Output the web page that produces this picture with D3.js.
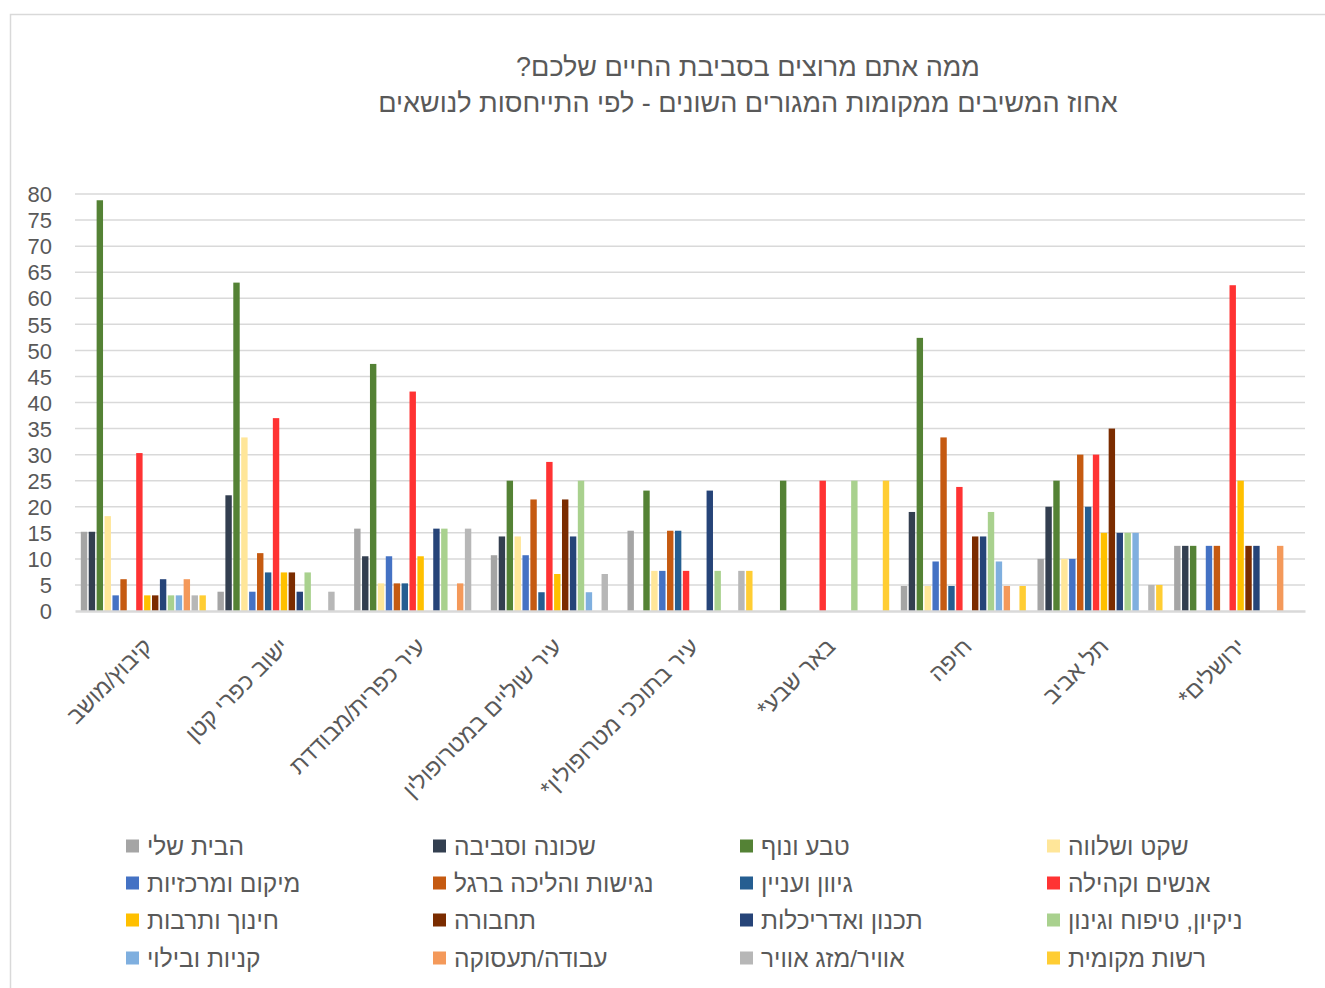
<!DOCTYPE html>
<html><head><meta charset="utf-8">
<script src="https://cdn.jsdelivr.net/npm/d3@7"></script>
<style>
html,body{margin:0;padding:0;background:#fff;}
svg text{font-family:"Liberation Sans",Arial,"DejaVu Sans",sans-serif;fill:#595959;}
</style></head>
<body>
<svg id="chart" width="1325" height="988"></svg>
<script>
const titleLines = ["ממה אתם מרוצים בסביבת החיים שלכם?", "אחוז המשיבים ממקומות המגורים השונים - לפי התייחסות לנושאים"];
const categories = ["קיבוץ/מושב","ישוב כפרי קטן","עיר כפרית/מבודדת","עיר שוליים במטרופולין","עיר בתוככי מטרופולין*","באר שבע*","חיפה","תל אביב","ירושלים*"];
const seriesNames = ["הבית שלי","שכונה וסביבה","טבע ונוף","שקט ושלווה","מיקום ומרכזיות","נגישות והליכה ברגל","גיוון ועניין","אנשים וקהילה","חינוך ותרבות","תחבורה","תכנון ואדריכלות","ניקיון, טיפוח וגינון","קניות ובילוי","עבודה/תעסוקה","אוויר/מזג אוויר","רשות מקומית"];
const seriesColors = ["#A5A5A5","#333F50","#548235","#FFE699","#4472C4","#C55A11","#255E91","#FF3333","#FFC000","#7B2C00","#264478","#A9D18E","#7FAFDF","#F4995A","#B7B7B7","#FFCD33"];
// values per category, in series order
const kibbutz       = [15.2,15.2,78.8,18.2,3.0,6.1,0,30.3,3.0,3.0,6.1,3.0,3.0,6.1,3.0,3.0];
const smallVillage  = [3.7,22.2,63.0,33.3,3.7,11.1,7.4,37.0,7.4,7.4,3.7,7.4,0,0,3.7,0];
const ruralTown     = [15.8,10.5,47.4,5.3,10.5,5.3,5.3,42.1,10.5,0,15.8,15.8,0,5.3,15.8,0];
const peripheryCity = [10.7,14.3,25.0,14.3,10.7,21.4,3.6,28.6,7.1,21.4,14.3,25.0,3.6,0,7.1,0];
const innerCity     = [15.4,0,23.1,7.7,7.7,15.4,15.4,7.7,0,0,23.1,7.7,0,0,7.7,7.7];
const beerSheva     = [0,0,25,0,0,0,0,25,0,0,0,25,0,0,0,25];
const haifa         = [4.8,19.0,52.4,4.8,9.5,33.3,4.8,23.8,0,14.3,14.3,19.0,9.5,4.8,0,4.8];
const telAviv       = [10,20,25,10,10,30,20,30,15,35,15,15,15,0,5,5];
const jerusalem     = [12.5,12.5,12.5,0,12.5,12.5,0,62.5,25,12.5,12.5,0,0,12.5,0,0];
const categoryValues = [kibbutz,smallVillage,ruralTown,peripheryCity,innerCity,beerSheva,haifa,telAviv,jerusalem];
const yTicks = d3.range(0,81,5);

const svg = d3.select("#chart");
svg.append("rect").attr("x",10.5).attr("y",14.5).attr("width",1330).attr("height",990)
  .attr("fill","#fff").attr("stroke","#D9D9D9").attr("stroke-width",1.5);

const plotLeft=75, plotRight=1305, plotTop=194, plotBottom=611;
const x0 = d3.scaleBand().domain(categories).range([plotLeft,plotRight]).paddingInner(0.085).paddingOuter(0.0425);
const x1 = d3.scaleBand().domain(d3.range(seriesNames.length)).range([0,x0.bandwidth()]).paddingInner(0.19);
const y = d3.scaleLinear().domain([0,80]).range([plotBottom,plotTop]);

// title
const title = svg.append("g");
titleLines.forEach((t,i)=>{
  title.append("text").attr("x",748).attr("y",76+i*36).attr("text-anchor","middle")
    .attr("direction","rtl").style("font-size","27px").text(t);
});

// gridlines
svg.append("g").selectAll("line").data(yTicks.filter(d=>d>0)).join("line")
  .attr("x1",plotLeft).attr("x2",plotRight).attr("y1",d=>y(d)).attr("y2",d=>y(d))
  .attr("stroke","#D9D9D9").attr("stroke-width",1.5);

// y axis
const yAxis = d3.axisLeft(y).tickValues(yTicks).tickSize(0).tickPadding(23);
const ya = svg.append("g").attr("transform",`translate(${plotLeft},0)`).call(yAxis);
ya.select(".domain").remove();
ya.selectAll("text").style("font-size","22px").attr("fill","#595959").attr("dy","0.35em")
  .style("font-family","'Liberation Sans',Arial,sans-serif");

// bars
const groups = svg.append("g").selectAll("g").data(categories).join("g")
  .attr("transform",d=>`translate(${x0(d)},0)`);
groups.selectAll("rect").data((d,i)=>categoryValues[i].map((v,j)=>({v,j}))).join("rect")
  .attr("x",d=>x1(d.j)).attr("width",x1.bandwidth())
  .attr("y",d=>y(d.v)).attr("height",d=>y(0)-y(d.v))
  .attr("fill",d=>seriesColors[d.j]);

// x axis
const xAxis = d3.axisBottom(x0).tickSize(0).tickFormat("");
const xa = svg.append("g").attr("transform",`translate(0,${plotBottom})`).call(xAxis);
xa.select(".domain").attr("stroke","#D9D9D9").attr("stroke-width",2.5);

svg.append("g").selectAll("text").data(categories).join("text")
  .attr("transform",d=>`translate(${x0(d)+x0.bandwidth()/2+10},${plotBottom+37}) rotate(-45)`)
  .attr("direction","rtl").attr("text-anchor","start")
  .style("font-size","23px").text(d=>d);

// legend
const legend = svg.append("g");
const colX = [126,433,740,1047], rowY = [846,883,920,958];
seriesNames.forEach((n,i)=>{
  const cx = colX[i%4], cy = rowY[Math.floor(i/4)];
  legend.append("rect").attr("x",cx).attr("y",cy-6.5).attr("width",13).attr("height",13).attr("fill",seriesColors[i]);
  legend.append("text").attr("x",cx+21).attr("y",cy).attr("dy","0.35em")
    .attr("direction","rtl").attr("text-anchor","end").style("font-size","24.5px").text(n);
});
</script>
</body></html>
